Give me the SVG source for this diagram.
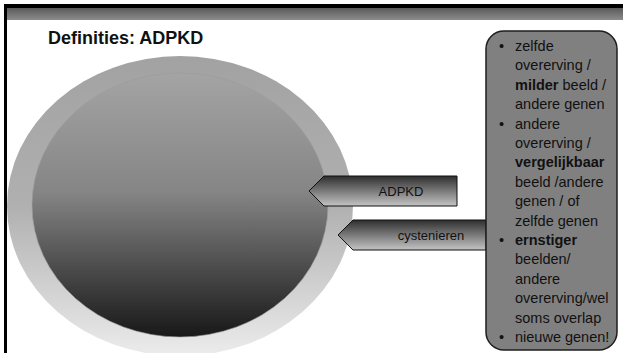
<svg xmlns="http://www.w3.org/2000/svg" width="623" height="353" viewBox="0 0 623 353">
<defs>
<linearGradient id="band" x1="0" y1="0" x2="0" y2="1"><stop offset="0" stop-color="#5a5a5a"/><stop offset="1" stop-color="#8c8c8c"/></linearGradient>
<linearGradient id="outer" x1="0" y1="0" x2="0" y2="1"><stop offset="0" stop-color="#a2a2a2"/><stop offset="0.5" stop-color="#b0b0b0"/><stop offset="1" stop-color="#ececec"/></linearGradient>
<linearGradient id="inner" x1="0" y1="0" x2="0" y2="1"><stop offset="0" stop-color="#a4a4a4"/><stop offset="0.45" stop-color="#858585"/><stop offset="1" stop-color="#181818"/></linearGradient>
<linearGradient id="arrow" x1="0" y1="0" x2="0" y2="1"><stop offset="0" stop-color="#2e2e2e"/><stop offset="0.5" stop-color="#7a7a7a"/><stop offset="1" stop-color="#c4c4c4"/></linearGradient>
</defs>
<style>
.t{font-family:"Liberation Sans",Arial,sans-serif;fill:#111}
.box{font-size:14.5px}
.arr{font-size:13px;text-anchor:middle}
.b{font-weight:bold}
.shape{fill:url(#arrow);stroke:#111;stroke-width:1}
</style>
<rect width="623" height="353" fill="#fff"/>
<g id="frame">
<rect x="4" y="8" width="619" height="12" fill="url(#band)"/>
<rect x="4" y="4" width="619" height="4" fill="#000"/>
<rect x="4" y="4" width="3" height="349" fill="#000"/>
</g>
<text class="t b" x="48" y="44" font-size="18">Definities: ADPKD</text>
<g id="circle">
<ellipse cx="180" cy="206" rx="173" ry="150" fill="url(#outer)"/>
<ellipse cx="180" cy="205" rx="148" ry="132" fill="url(#inner)" stroke="#9a9a9a" stroke-width="0.6"/>
</g>
<g id="connectors">
<g id="arrow-adpkd">
<path class="shape" d="M309,191 L324,176 L457,176 L457,206 L324,206 Z"/>
<text class="t arr" x="401" y="196">ADPKD</text>
</g>
<g id="arrow-cystenieren">
<path class="shape" d="M338,235 L353,220 L486,220 L486,250 L353,250 Z"/>
<text class="t arr" x="431" y="240">cystenieren</text>
</g>
</g>
<g id="box">
<rect x="486" y="31" width="131" height="319" rx="18" ry="18" fill="#808080" stroke="#1e1e1e" stroke-width="1.5"/>
<g class="t box">
<text x="499" y="51">•</text><text x="515" y="51">zelfde</text>
<text x="515" y="70.4">overerving /</text>
<text x="515" y="89.8"><tspan class="b">milder</tspan> beeld /</text>
<text x="515" y="109.2">andere genen</text>
<text x="499" y="128.6">•</text><text x="515" y="128.6">andere</text>
<text x="515" y="148">overerving /</text>
<text x="515" y="167.4" class="b">vergelijkbaar</text>
<text x="515" y="186.8">beeld /andere</text>
<text x="515" y="206.2">genen / of</text>
<text x="515" y="225.6">zelfde genen</text>
<text x="499" y="245">•</text><text x="515" y="245" class="b">ernstiger</text>
<text x="515" y="264.4">beelden/</text>
<text x="515" y="283.8">andere</text>
<text x="515" y="303.2">overerving/wel</text>
<text x="515" y="322.6">soms overlap</text>
<text x="499" y="342">•</text><text x="515" y="342">nieuwe genen!</text>
</g>
</g>
</svg>
